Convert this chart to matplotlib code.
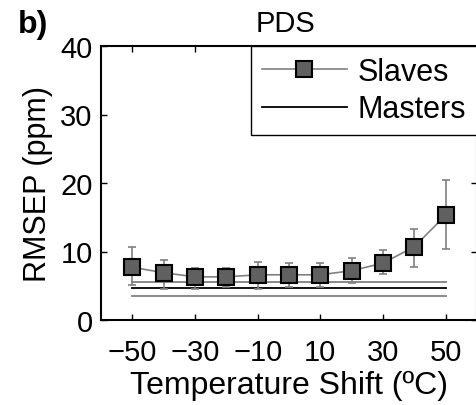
import numpy as np
import matplotlib
matplotlib.use("Agg")
from matplotlib import pyplot as plt

plt.rcParams['font.family'] = ['Liberation Sans', 'DejaVu Sans']

# Temperature shift and RMSEP of the slave instruments (PDS)
shift = [-50, -40, -30, -20, -10, 0, 10, 20, 30, 40, 50]
slaves = [7.7, 6.9, 6.3, 6.3, 6.6, 6.6, 6.6, 7.2, 8.3, 10.7, 15.3]
err_hi = [10.6, 8.8, 7.6, 7.6, 8.5, 8.3, 8.3, 9.0, 10.2, 13.3, 20.4]
err_lo = [5.1, 4.5, 4.5, 4.8, 4.5, 4.8, 4.8, 5.4, 6.7, 7.7, 10.4]

# Masters: mean and +/- std band
master_mean = 4.7
master_hi = 5.6
master_lo = 3.5
master_x = [-50, 50]

xticks = [-50, -30, -10, 10, 30, 50]
yticks = [0, 10, 20, 30, 40]

fs = 21

fig = plt.figure(figsize=(4.76, 4.06), dpi=100)
ax = fig.add_axes([101 / 476, 1 - 321 / 406, 376 / 476, 274 / 406])

slaves = np.array(slaves)
yerr = [slaves - np.array(err_lo), np.array(err_hi) - slaves]
ax.errorbar(shift, slaves, yerr=yerr, fmt='none', ecolor='#808080',
            elinewidth=1.2, capsize=3, capthick=1.2, zorder=2)
ax.plot(shift, slaves, '-s', color='#808080', lw=1.2, ms=12,
        mfc='#606060', mec='black', mew=1.5, label='Slaves', zorder=3)

ax.plot(master_x, [master_hi] * 2, color='#808080', lw=1.3, zorder=1)
ax.plot(master_x, [master_mean] * 2, color='black', lw=1.3, label='Masters', zorder=1)
ax.plot(master_x, [master_lo] * 2, color='#808080', lw=1.3, zorder=1)

ax.set_xlim(-60, 60)
ax.set_ylim(0, 40)
ax.set_xticks(xticks)
ax.set_yticks(yticks)
ax.set_xticklabels([f'\u2212{-t}' if t < 0 else str(t) for t in xticks])
ax.tick_params(direction='in', top=True, right=True, labelsize=fs, length=4, width=1, pad=6)
ax.tick_params(axis='x', pad=13)
for s in ax.spines.values():
    s.set_linewidth(1.5)

ax.set_xlabel('Temperature Shift (ºC)', fontsize=23, labelpad=3)
ax.set_ylabel('RMSEP (ppm)', fontsize=22, labelpad=5)

leg = ax.legend(loc='upper right', fontsize=22, frameon=True, fancybox=False,
                edgecolor='black', framealpha=1, borderaxespad=0,
                handlelength=2.8, handletextpad=0.35, labelspacing=0.25, borderpad=0.35)
leg.get_frame().set_linewidth(1.0)

fig.text(286 / 476, 1 - 24 / 406, 'PDS', ha='center', va='center', fontsize=21)
fig.text(18 / 476, 1 - 25 / 406, 'b)', ha='left', va='center', fontsize=23, fontweight='bold')

fig.savefig('out.png', dpi=100)
